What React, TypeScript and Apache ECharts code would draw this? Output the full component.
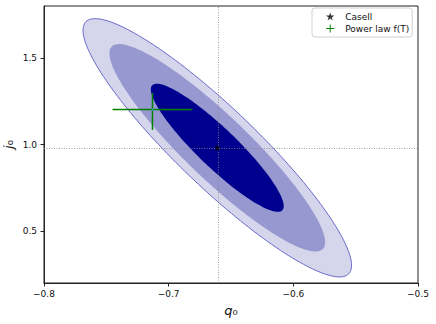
import React, { useEffect, useRef } from "react";
import * as echarts from "echarts";

// ---- data ----
const casellPoint = [-0.661, 0.981]; // best fit (q0, j0)
// half-extents of the three confidence contours (outer, middle, inner)
const contourHalfQ = [0.1077, 0.0865, 0.0533];
const contourHalfJ = [0.746, 0.599, 0.37];
const contourCorrelation = -0.91;
const contourFills = ["#d5d5ec", "#9898d1", "#00008e"];

const powerLawPoint = [-0.713, 1.202];
const powerLawErrQ = [0.032, 0.032]; // minus, plus
const powerLawErrJ = [0.118, 0.096]; // minus, plus

const xTicks = [-0.8, -0.7, -0.6, -0.5];
const yTicks = [0.5, 1.0, 1.5];
const xRange = [-0.8, -0.5];
const yRange = [0.2, 1.8];

const STAR =
  "path://M50,0 L61.2,34.5 L97.6,34.5 L68.2,55.9 L79.4,90.5 L50,69.1 L20.6,90.5 L31.8,55.9 L2.4,34.5 L38.8,34.5 Z";
const PLUS = "path://M44,0 H56 V44 H100 V56 H56 V100 H44 V56 H0 V44 H44 Z";

const FONT = "DejaVu Sans";
const fmt = (v: number) => v.toFixed(1).replace("-", "\u2212");

const nameRich = {
  a: { fontFamily: FONT, fontStyle: "italic", fontSize: 13, color: "#111" },
  b: { fontFamily: FONT, fontSize: 13, color: "#111" },
};

export default function App() {
  const ref = useRef<HTMLDivElement>(null);
  useEffect(() => {
    if (!ref.current) return;
    const chart = echarts.init(ref.current, undefined, { renderer: "svg" });

    const contourData = contourHalfQ.map((hq, i) => [
      casellPoint[0],
      casellPoint[1],
      i,
    ]);

    const option: any = {
      animation: false,
      backgroundColor: "#fff",
      textStyle: { fontFamily: FONT },
      grid: {
        left: 44,
        right: 18,
        top: 6,
        bottom: 41,
        containLabel: false,
        outerBoundsMode: "none",
        show: true,
        borderColor: "#222",
        borderWidth: 1,
        backgroundColor: "transparent",
      },
      legend: {
        left: 312,
        top: 8,
        orient: "vertical",
        backgroundColor: "#fff",
        borderColor: "#cfcfcf",
        borderWidth: 1,
        borderRadius: 3,
        padding: [4, 3, 4, 14],
        itemWidth: 20,
        itemHeight: 8,
        itemGap: 3,
        textStyle: { fontFamily: FONT, fontSize: 9, color: "#111" },
        data: [
          { name: "Casell", icon: STAR },
          { name: "Power law f(T)", icon: PLUS },
        ],
      },
      xAxis: {
        type: "value",
        min: xRange[0],
        max: xRange[1],
        interval: 0.1,
        name: "{a|q}{b|\u2080}",
        nameLocation: "middle",
        nameMoveOverlap: false,
        nameGap: 21,
        nameTextStyle: { rich: nameRich },
        axisLine: { show: true, onZero: false, lineStyle: { color: "#222", width: 1 } },
        axisTick: {
          show: true,
          inside: false,
          length: 3.5,
          lineStyle: { color: "#222" },
          customValues: xTicks,
        },
        axisLabel: {
          fontFamily: FONT,
          fontSize: 9,
          color: "#111",
          margin: 6,
          customValues: xTicks,
          formatter: (v: number) => fmt(v),
        },
        splitLine: { show: false },
      },
      yAxis: {
        type: "value",
        min: yRange[0],
        max: yRange[1],
        name: "{a|j}{b|\u2080}",
        nameLocation: "middle",
        nameRotate: 90,
        nameMoveOverlap: false,
        nameGap: 29,
        nameTextStyle: { rich: nameRich },
        axisLine: { show: true, onZero: false, lineStyle: { color: "#222", width: 1 } },
        axisTick: {
          show: true,
          inside: false,
          length: 3.5,
          lineStyle: { color: "#222" },
          customValues: yTicks,
        },
        axisLabel: {
          fontFamily: FONT,
          fontSize: 9,
          color: "#111",
          margin: 7,
          customValues: yTicks,
          formatter: (v: number) => fmt(v),
        },
        splitLine: { show: false },
      },
      series: [
        {
          name: "contours",
          type: "custom",
          silent: true,
          clip: true,
          data: contourData,
          renderItem: (params: any, api: any) => {
            const i = api.value(2);
            const cq = api.value(0);
            const cj = api.value(1);
            const hq = contourHalfQ[i];
            const hj = contourHalfJ[i];
            const r = contourCorrelation;
            const s = Math.sqrt(1 - r * r);
            const pts: number[][] = [];
            const N = 180;
            for (let k = 0; k < N; k++) {
              const t = (2 * Math.PI * k) / N;
              const q = cq + hq * Math.cos(t);
              const j = cj + hj * (r * Math.cos(t) + s * Math.sin(t));
              pts.push(api.coord([q, j]));
            }
            return {
              type: "polygon",
              shape: { points: pts },
              style: {
                fill: contourFills[i],
                stroke: i === 0 ? "#6a6acb" : null,
                lineWidth: i === 0 ? 1 : 0,
              },
            };
          },
          z: 1,
        },
        {
          name: "guides",
          type: "line",
          data: [],
          silent: true,
          markLine: {
            silent: true,
            symbol: "none",
            label: { show: false },
            lineStyle: { color: "#888", width: 0.8, type: [1, 1.5] },
            data: [{ xAxis: casellPoint[0] }, { yAxis: casellPoint[1] }],
          },
          z: 2,
        },
        {
          name: "Casell",
          type: "scatter",
          symbol: STAR,
          symbolSize: 7,
          itemStyle: { color: "#000" },
          data: [casellPoint],
          z: 5,
        },
        {
          name: "Power law f(T)",
          type: "custom",
          itemStyle: { color: "#008000" },
          data: [[powerLawPoint[0], powerLawPoint[1]]],
          renderItem: (params: any, api: any) => {
            const q = api.value(0);
            const j = api.value(1);
            const l = api.coord([q - powerLawErrQ[0], j]);
            const rgt = api.coord([q + powerLawErrQ[1], j]);
            const b = api.coord([q, j - powerLawErrJ[0]]);
            const t = api.coord([q, j + powerLawErrJ[1]]);
            const c = api.coord([q, j]);
            return {
              type: "group",
              children: [
                {
                  type: "line",
                  shape: { x1: l[0], y1: l[1], x2: rgt[0], y2: rgt[1] },
                  style: { stroke: "#008000", lineWidth: 1.5 },
                },
                {
                  type: "line",
                  shape: { x1: b[0], y1: b[1], x2: t[0], y2: t[1] },
                  style: { stroke: "#008000", lineWidth: 1.5 },
                },
                {
                  type: "circle",
                  shape: { cx: c[0], cy: c[1], r: 1 },
                  style: { fill: "#4a90c8" },
                },
              ],
            };
          },
          z: 6,
        },
      ],
    };
    chart.setOption(option);
    return () => chart.dispose();
  }, []);
  return (
    <div
      ref={ref}
      style={{ position: "absolute", left: 0, top: 0, width: 436, height: 324 }}
    />
  );
}
